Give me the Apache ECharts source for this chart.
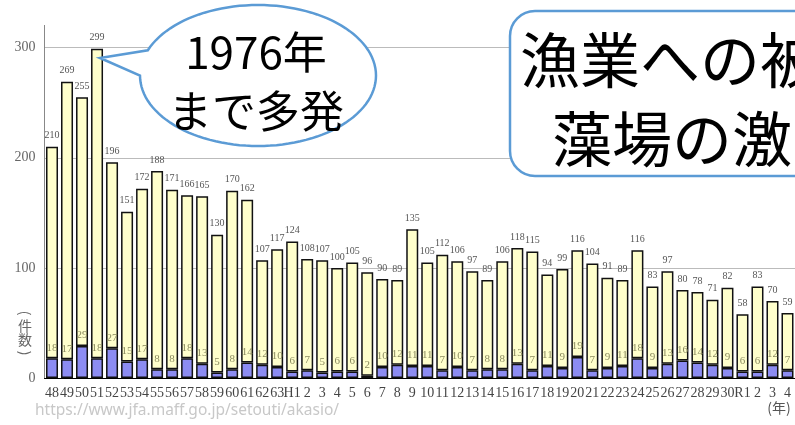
<!DOCTYPE html>
<html><head><meta charset="utf-8">
<script src="https://cdn.jsdelivr.net/npm/echarts@6/dist/echarts.min.js"></script>
<style>html,body{margin:0;padding:0;background:#fff}#c{width:795px;height:425px}</style>
</head><body><div id="c"></div>
<script>
const categories = ['48','49','50','51','52','53','54','55','56','57','58','59','60','61','62','63','H1','2','3','4','5','6','7','8','9','10','11','12','13','14','15','16','17','18','19','20','21','22','23','24','25','26','27','28','29','30','R1','2','3','4'];
const totals = [210,269,255,299,196,151,172,188,171,166,165,130,170,162,107,117,124,108,107,100,105,96,90,89,135,105,112,106,97,89,106,118,115,94,99,116,104,91,89,116,83,97,80,78,71,82,58,83,70,59];
const fisheryDamage = [18,17,29,18,27,15,17,8,8,18,13,5,8,14,12,10,6,7,5,6,6,2,10,12,11,11,7,10,7,8,8,13,7,11,9,19,7,9,11,18,9,13,16,14,12,9,6,6,12,7];
const yTicks = [0,100,200,300];

const others = totals.map((t,i)=>t-fisheryDamage[i]);
const serif = '"Liberation Serif","DejaVu Serif",serif';
const jp = '"Noto Sans CJK JP","Noto Sans",sans-serif';

// speech bubble outline (annotation shape)
const cx=258, cy=75.5, rx=118, ry=70.5;
const bubble=[[100,58]];
for(let a=201;a<=540;a+=3){const r=a*Math.PI/180;bubble.push([cx+rx*Math.cos(r),cy+ry*Math.sin(r)]);}

const chart = echarts.init(document.getElementById('c'));
chart.setOption({
  animation:false,
  grid:{left:44.5,top:47.7,bottom:47,width:753,containLabel:false},
  xAxis:{type:'category',data:categories,
    axisTick:{show:false},
    axisLine:{lineStyle:{color:'#000',width:1}},
    axisLabel:{interval:0,fontFamily:serif,fontSize:14,color:'#444',margin:8}},
  yAxis:{type:'value',min:yTicks[0],max:yTicks[yTicks.length-1],interval:100,
    axisLine:{show:true,lineStyle:{color:'#888',width:1}},
    axisTick:{show:false},
    axisLabel:{fontFamily:serif,fontSize:14,color:'#666',margin:9},
    splitLine:{lineStyle:{type:'dotted',color:'#777',width:1}}},
  series:[
    {type:'bar',stack:'a',data:fisheryDamage,barWidth:12,
      itemStyle:{color:'#8c8cf2',borderColor:'#111',borderWidth:1.5},
      label:{show:true,position:'top',distance:5,fontFamily:serif,fontSize:11,color:'#8b8b60'}},
    {type:'bar',stack:'a',data:others,barWidth:12,
      itemStyle:{color:'#ffffcc',borderColor:'#111',borderWidth:1.5},
      label:{show:true,position:'top',distance:6,fontFamily:serif,fontSize:10,color:'#555',
        formatter:p=>String(totals[p.dataIndex])}}
  ],
  graphic:[
    {type:'line',shape:{x1:44.5,y1:25,x2:44.5,y2:48},style:{stroke:'#888',lineWidth:1}},
    {type:'text',x:25,y:313,rotation:-Math.PI/2,style:{text:'(',x:0,y:0,textAlign:'center',textVerticalAlign:'middle',font:'14px '+jp,fill:'#666'}},
    {type:'text',style:{text:'件\n数',x:25,y:333,textAlign:'center',textVerticalAlign:'middle',font:'14px '+jp,fill:'#666',lineHeight:14}},
    {type:'text',x:25,y:353,rotation:-Math.PI/2,style:{text:')',x:0,y:0,textAlign:'center',textVerticalAlign:'middle',font:'14px '+jp,fill:'#666'}},
    {type:'text',style:{text:'(年)',x:779,y:408,textAlign:'center',textVerticalAlign:'middle',font:'14px '+jp,fill:'#555'}},
    {type:'text',style:{text:'https://www.jfa.maff.go.jp/setouti/akasio/',x:35,y:411,textVerticalAlign:'middle',font:'15.5px "Noto Sans",sans-serif',fill:'#c8c8c8'}},
    {type:'polygon',z:100,shape:{points:bubble},style:{fill:'#fff',stroke:'#5b9bd5',lineWidth:2.5}},
    {type:'text',z:101,style:{text:'1976年',x:256,y:52,textAlign:'center',textVerticalAlign:'middle',font:'44px '+jp,fill:'#000'}},
    {type:'text',z:101,style:{text:'まで多発',x:256,y:111,textAlign:'center',textVerticalAlign:'middle',font:'44px '+jp,fill:'#000'}},
    {type:'rect',z:100,shape:{x:510,y:11,width:420,height:165,r:25},style:{fill:'#fff',stroke:'#5b9bd5',lineWidth:2.5}},
    {type:'text',z:101,style:{text:'漁業への被',x:520,y:60,textVerticalAlign:'middle',font:'60px '+jp,fill:'#000'}},
    {type:'text',z:101,style:{text:'藻場の激',x:552,y:139,textVerticalAlign:'middle',font:'60px '+jp,fill:'#000'}}
  ]
});
</script></body></html>
